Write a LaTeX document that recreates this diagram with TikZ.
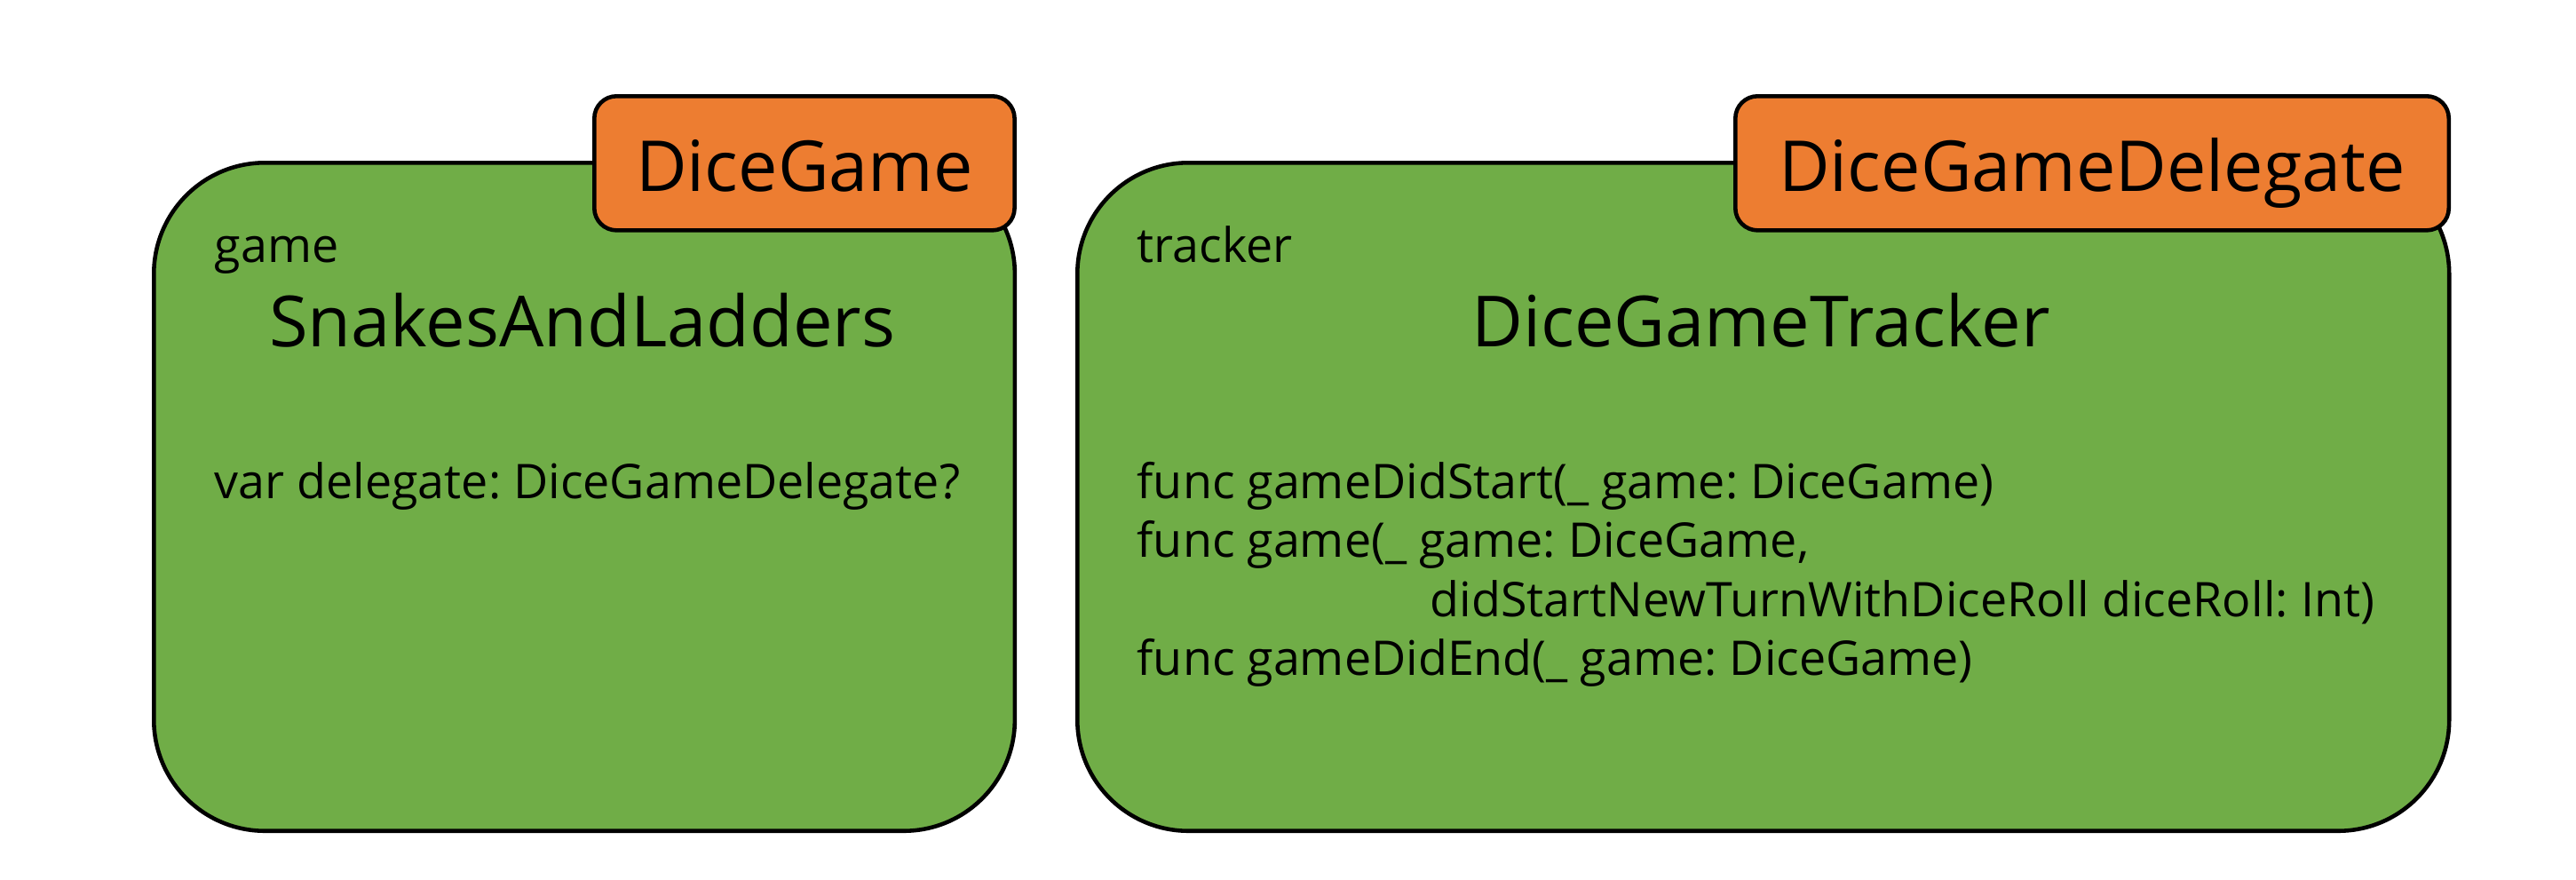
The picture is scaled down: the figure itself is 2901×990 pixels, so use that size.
\documentclass[tikz,border=0pt]{standalone}
\usepackage{fontspec}
\setmainfont{Open Sans}
\frenchspacing
\definecolor{boxgreen}{HTML}{70AD47}
\definecolor{taborange}{HTML}{ED7D31}
\tikzset{
	classbox/.style = {
		rectangle,
		draw=black,
		fill=boxgreen,
		line width=1.3pt,
		rounded corners=1.25cm,
		inner sep=0pt,
		minimum height=7.52cm,
		anchor=north west
	},
	protocoltab/.style = {
		rectangle,
		draw=black,
		fill=taborange,
		line width=1.3pt,
		rounded corners=0.25cm,
		inner sep=0pt,
		minimum height=1.51cm,
		text height=0.64cm,
		text depth=0pt,
		font=\fontsize{22.5}{26}\selectfont,
		anchor=north west
	},
	membertext/.style = {
		inner sep=0pt,
		font=\fontsize{15.3}{18}\selectfont,
		anchor=base west
	},
	classname/.style = {
		inner sep=0pt,
		font=\fontsize{22.6}{26}\selectfont,
		anchor=base
	},
}

\begin{document}
\begin{tikzpicture}[x=0.01cm, y=-0.01cm]
\useasboundingbox [fill=white] (0,0) rectangle (2901,990);

% DiceGame side
\node [classbox, minimum width=9.69cm] (game_box) at (171,181) {};
\node [protocoltab, minimum width=4.73cm] (game_tab) at (667,106) {DiceGame};
\node [membertext] (game_var) at (241,295) {game};
\node [classname] (game_class) at (655.5,390) {SnakesAndLadders};
\node [membertext] (game_delegate) at (241,561) {var delegate: DiceGameDelegate?};

% DiceGameDelegate side
\node [classbox, minimum width=15.44cm] (tracker_box) at (1211,181) {};
\node [protocoltab, minimum width=8.03cm] (tracker_tab) at (1952,106) {DiceGameDelegate};
\node [membertext] (tracker_var) at (1280,295) {tracker};
\node [classname] (tracker_class) at (1983,390) {DiceGameTracker};
\node [membertext] (func_start) at (1280,561) {func gameDidStart(\_ game: DiceGame)};
\node [membertext] (func_turn) at (1280,627) {func game(\_ game: DiceGame,};
\node [membertext] (func_roll) at (1610,694) {didStartNewTurnWithDiceRoll diceRoll: Int)};
\node [membertext] (func_end) at (1280,760) {func gameDidEnd(\_ game: DiceGame)};
\end{tikzpicture}
\end{document}
